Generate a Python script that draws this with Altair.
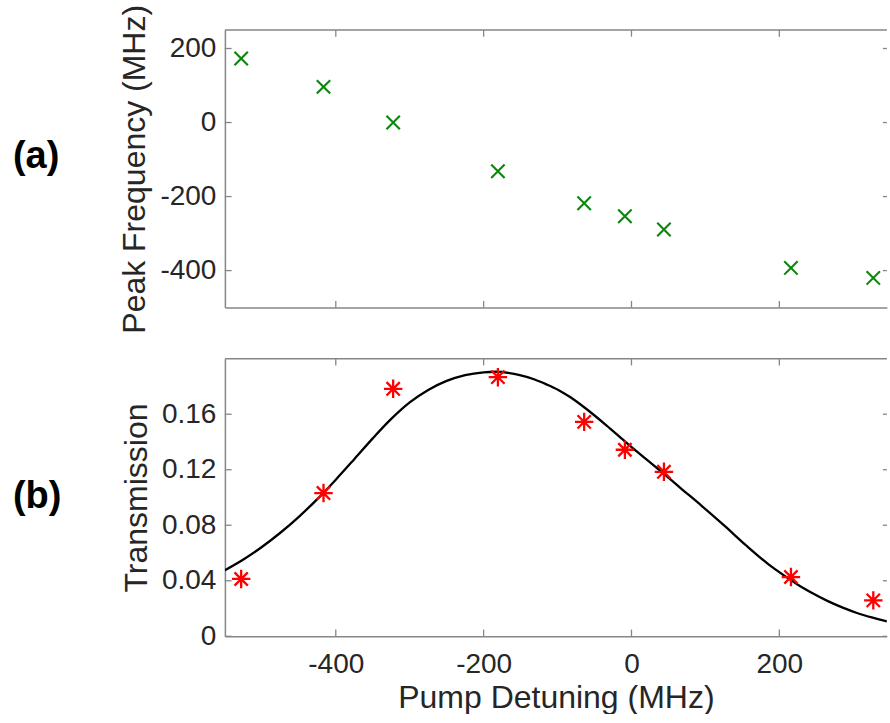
import altair as alt
import pandas as pd

# ---------------- data ----------------
detuning = [-528, -416.6, -322.4, -180.7, -64, -8.9, 43.9, 215.7, 327.1]
peak_freq = [173, 96.4, 0, -131.5, -218, -253, -289, -392.8, -419.8]
transmission = [0.0413, 0.1032, 0.1783, 0.1867, 0.1545, 0.1344, 0.1185, 0.0427, 0.0259]

fit_x = [-550, -525, -500, -475, -450, -425, -400, -375, -350, -325, -300, -275,
         -250, -225, -200, -185, -154, -131, -115, -99, -82, -64, -34, -9, 19,
         44, 66, 96, 126, 155, 185, 210, 224, 245, 265, 285, 305, 325, 345.5]
fit_y = [0.0476, 0.05535, 0.06435, 0.0746, 0.0861, 0.09885, 0.11285, 0.1276,
         0.1426, 0.1566, 0.1685, 0.1775, 0.1840, 0.1882, 0.1902, 0.1906, 0.1885,
         0.1850, 0.1815, 0.1775, 0.1720, 0.1650, 0.1520, 0.1405, 0.1280, 0.1170,
         0.1070, 0.0935, 0.0795, 0.0655, 0.0520, 0.0425, 0.0375, 0.0310, 0.0255,
         0.0208, 0.0168, 0.0136, 0.0108]

x_ticks = [-400, -200, 0, 200]
peak_ticks = [-400, -200, 0, 200]
trans_ticks = [0, 0.04, 0.08, 0.12, 0.16]
panel_labels = ["(a)", "(b)"]

x_title = "Pump Detuning (MHz)"
peak_title = "Peak Frequency (MHz)"
trans_title = "Transmission"

# ---------------- styling ----------------
W = 662
H = 277.6
TICK = 6.7
FONT = "Liberation Sans"
TXT = "#262626"
AX = "#868686"
TITLE_SIZE = 32
X_DOMAIN = [-550, 345.5]
PEAK_DOMAIN = [-500, 250]
TRANS_DOMAIN = [0, 0.2]

xscale = alt.Scale(domain=X_DOMAIN, nice=False, zero=False)
pscale = alt.Scale(domain=PEAK_DOMAIN, nice=False, zero=False)
tscale = alt.Scale(domain=TRANS_DOMAIN, nice=False, zero=False)

lab_expr = "'' + datum.value"


def y_axis(values, title):
    return alt.Axis(values=values, ticks=False, tickSize=0, grid=False,
                    labelPadding=9, labelFont=FONT, labelFontSize=28,
                    labelColor=TXT, labelExpr=lab_expr, labelOverlap=False,
                    title=title, titleFont=FONT, titleFontSize=TITLE_SIZE,
                    titleFontWeight="normal", titleColor=TXT, titlePadding=8,
                    domainColor=AX, domainWidth=1.5)


x_axis_bottom = alt.Axis(values=x_ticks, ticks=False, tickSize=0, grid=False,
                         labelPadding=14.6, labelFont=FONT, labelFontSize=28,
                         labelColor=TXT, labelExpr=lab_expr, labelOverlap=False,
                         labelFlush=False,
                         title=x_title, titleFont=FONT, titleFontSize=TITLE_SIZE,
                         titleFontWeight="normal", titleColor=TXT, titlePadding=4,
                         domainColor=AX, domainWidth=1.5)
x_axis_plain = alt.Axis(values=x_ticks, ticks=False, tickSize=0, grid=False,
                        labels=False, title=None, domainColor=AX, domainWidth=1.5)

pts = pd.DataFrame({"detuning": detuning, "peak": peak_freq, "trans": transmission})
fit = pd.DataFrame({"x": fit_x, "y": fit_y})
one = pd.DataFrame({"a": [0]})

x_path = "M-1,-1L1,1M-1,1L1,-1"
star_path = "M0,-1L0,1M-1,0L1,0M-0.72,-0.72L0.72,0.72M-0.72,0.72L0.72,-0.72"


def frame_layers(yvals, xaxis, yscale, yaxis):
    xt = pd.DataFrame({"t": x_ticks})
    yt = pd.DataFrame({"t": yvals})
    top = alt.Chart(one).mark_rule(color=AX, strokeWidth=1.5).encode(
        x=alt.value(0), x2=alt.value(W), y=alt.value(0))
    xb = alt.Chart(xt).mark_rule(color=AX, strokeWidth=1.3).encode(
        x=alt.X("t:Q", scale=xscale, axis=xaxis), y=alt.value(H), y2=alt.value(H - TICK))
    xtop = alt.Chart(xt).mark_rule(color=AX, strokeWidth=1.3).encode(
        x=alt.X("t:Q", scale=xscale, axis=xaxis), y=alt.value(0), y2=alt.value(TICK))
    yl = alt.Chart(yt).mark_rule(color=AX, strokeWidth=1.3).encode(
        y=alt.Y("t:Q", scale=yscale, axis=yaxis), x=alt.value(0), x2=alt.value(TICK))
    yr = alt.Chart(yt).mark_rule(color=AX, strokeWidth=1.3).encode(
        y=alt.Y("t:Q", scale=yscale, axis=yaxis), x=alt.value(W), x2=alt.value(W - 4))
    return [top, xb, xtop, yl, yr]


def panel_label(text, ypos):
    return alt.Chart(pd.DataFrame({"label": [text]})).mark_text(
        align="left", baseline="middle", font=FONT, fontSize=38,
        fontWeight="bold", color="black").encode(
        x=alt.value(-212), y=alt.value(ypos), text="label:N")


# ---------------- panel (a) ----------------
ya = y_axis(peak_ticks, peak_title)
a_pts = alt.Chart(pts).mark_point(
    shape=x_path, filled=False, color="#0a870a", size=180, strokeWidth=2.1,
    opacity=1).encode(
    x=alt.X("detuning:Q", scale=xscale, axis=x_axis_plain),
    y=alt.Y("peak:Q", scale=pscale, axis=ya))

panel_a = alt.layer(a_pts, *frame_layers(peak_ticks, x_axis_plain, pscale, ya),
                    panel_label(panel_labels[0], 127)).properties(width=W, height=H)

# ---------------- panel (b) ----------------
yb = y_axis(trans_ticks, trans_title)
b_fit = alt.Chart(fit).mark_line(color="black", strokeWidth=2.3,
                                 interpolate="monotone", clip=True).encode(
    x=alt.X("x:Q", scale=xscale, axis=x_axis_bottom),
    y=alt.Y("y:Q", scale=tscale, axis=yb))

b_pts = alt.Chart(pts).mark_point(
    shape=star_path, filled=False, color="#ff0000", size=340, strokeWidth=2.3,
    opacity=1).encode(
    x=alt.X("detuning:Q", scale=xscale, axis=x_axis_bottom),
    y=alt.Y("trans:Q", scale=tscale, axis=yb))

panel_b = alt.layer(b_fit, b_pts, *frame_layers(trans_ticks, x_axis_bottom, tscale, yb),
                    panel_label(panel_labels[1], 138)).properties(width=W, height=H)

chart = alt.vconcat(panel_a, panel_b, spacing=50.7, bounds="flush").properties(
    padding={"left": 12.9, "top": 4, "right": 0, "bottom": 0},
    background="white",
).configure_view(stroke=None)

chart.save("out.html", embed_options={"renderer": "svg", "actions": False})
